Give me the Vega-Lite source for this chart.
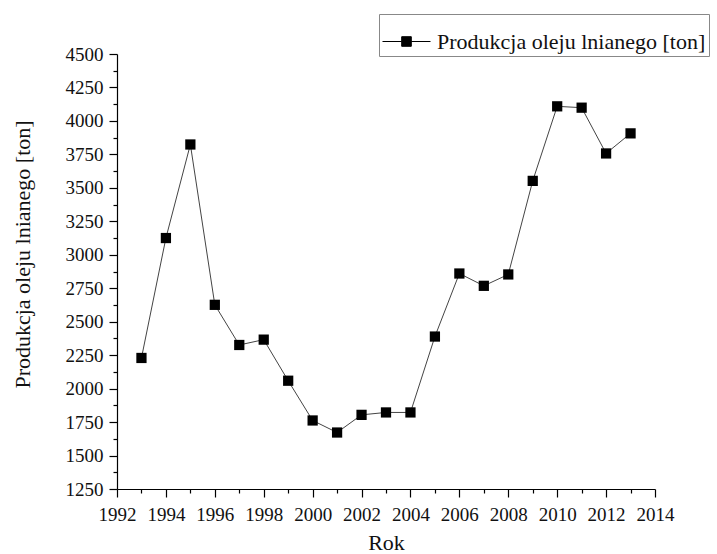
{
  "$schema": "https://vega.github.io/schema/vega-lite/v6.json",
  "autosize": {"type": "none"},
  "width": 538,
  "height": 435,
  "padding": {"left": 117, "top": 54, "right": 62, "bottom": 65},
  "background": "white",
  "config": {
    "view": {"stroke": null},
    "font": "Liberation Serif",
    "style": {"guide-label": {"font": "Liberation Serif", "fontSize": 19}},
    "axis": {
      "domainColor": "black",
      "domainWidth": 1.2,
      "tickColor": "black",
      "tickWidth": 1.2,
      "labelFont": "Liberation Serif",
      "labelFontSize": 19,
      "labelColor": "#111",
      "titleFont": "Liberation Serif",
      "titleFontSize": 22,
      "titleFontWeight": "normal",
      "titleColor": "#111",
      "grid": false
    }
  },
  "data": {
    "values": [
      {"rok": 1993, "produkcja": 2229},
      {"rok": 1994, "produkcja": 3125},
      {"rok": 1995, "produkcja": 3824},
      {"rok": 1996, "produkcja": 2626},
      {"rok": 1997, "produkcja": 2326},
      {"rok": 1998, "produkcja": 2366},
      {"rok": 1999, "produkcja": 2059},
      {"rok": 2000, "produkcja": 1762},
      {"rok": 2001, "produkcja": 1672},
      {"rok": 2002, "produkcja": 1804},
      {"rok": 2003, "produkcja": 1822},
      {"rok": 2004, "produkcja": 1822},
      {"rok": 2005, "produkcja": 2389},
      {"rok": 2006, "produkcja": 2860},
      {"rok": 2007, "produkcja": 2768},
      {"rok": 2008, "produkcja": 2853},
      {"rok": 2009, "produkcja": 3552},
      {"rok": 2010, "produkcja": 4109},
      {"rok": 2011, "produkcja": 4099},
      {"rok": 2012, "produkcja": 3757},
      {"rok": 2013, "produkcja": 3907}
    ]
  },
  "encoding": {
    "x": {
      "field": "rok",
      "type": "quantitative",
      "scale": {"domain": [1992, 2014], "nice": false, "zero": false},
      "axis": {
        "title": "Rok",
        "values": [1992,1993,1994,1995,1996,1997,1998,1999,2000,2001,2002,2003,2004,2005,2006,2007,2008,2009,2010,2011,2012,2013,2014],
        "format": "d",
        "labelExpr": "datum.value % 2 === 0 ? datum.label : ''",
        "labelFont": "Liberation Serif",
        "labelFontSize": 19,
        "tickSize": {"condition": {"test": "datum.value % 2 === 0", "value": 8}, "value": 4},
        "labelPadding": 8,
        "titlePadding": 8,
        "labelFlush": false,
        "labelOverlap": false
      }
    },
    "y": {
      "field": "produkcja",
      "type": "quantitative",
      "scale": {"domain": [1250, 4500], "nice": false, "zero": false},
      "axis": {
        "title": "Produkcja oleju lnianego [ton]",
        "values": [1250,1375,1500,1625,1750,1875,2000,2125,2250,2375,2500,2625,2750,2875,3000,3125,3250,3375,3500,3625,3750,3875,4000,4125,4250,4375,4500],
        "format": "d",
        "labelExpr": "datum.value % 250 === 0 ? datum.label : ''",
        "labelFont": "Liberation Serif",
        "labelFontSize": 19,
        "tickSize": {"condition": {"test": "datum.value % 250 === 0", "value": 8}, "value": 4},
        "labelPadding": 6,
        "labelFlush": false,
        "labelOverlap": false,
        "titleX": -83,
        "titleY": 200
      }
    }
  },
  "layer": [
    {
      "mark": {"type": "line", "color": "#444", "strokeWidth": 1}
    },
    {
      "mark": {"type": "point", "shape": "square", "filled": true, "size": 105, "opacity": 1},
      "encoding": {
        "color": {
          "datum": "Produkcja oleju lnianego [ton]",
          "type": "nominal",
          "scale": {"range": ["black"]},
          "legend": {
            "title": null,
            "orient": "none",
            "legendX": 262,
            "legendY": -40,
            "strokeColor": "#888",
            "fillColor": "white",
            "padding": 3,
            "labelFont": "Liberation Serif",
            "labelFontSize": 22,
            "labelLimit": 500,
            "labelColor": "#111",
            "labelOffset": 6,
            "symbolType": "M-1,0H-0.2M0.2,0H1M-0.2,-0.2H0.2V0.2H-0.2Z",
            "symbolSize": 2304,
            "symbolStrokeWidth": 1,
            "symbolStrokeColor": "black",
            "symbolFillColor": "black"
          }
        }
      }
    }
  ]
}
